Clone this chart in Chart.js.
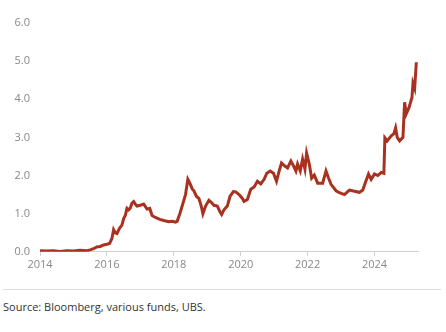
<!DOCTYPE html>
<html>
<head>
<meta charset="utf-8">
<script src="https://cdn.jsdelivr.net/npm/chart.js@4"></script>
<style>
  html, body { margin: 0; padding: 0; background: #fff; }
  #wrap { position: relative; width: 446px; height: 332px; }
  #chartBox { position: absolute; left: 0; top: 0; width: 446px; height: 273px; }
  #rule { position: absolute; left: 3px; right: 5px; top: 289px; border-top: 1px solid #dcdcdc; }
  #source { position: absolute; left: 3px; top: 299px; font: 11px 'Open Sans', sans-serif; color: #333; }
</style>
</head>
<body>
<div id="wrap">
  <div id="chartBox"><canvas id="chart"></canvas></div>
  <div id="rule"></div>
  <div id="source">Source: Bloomberg, various funds, UBS.</div>
</div>
<script>
// Series (decimal years)
const years = [
  2014.0, 2014.2, 2014.4, 2014.6, 2014.8, 2015.0, 2015.2, 2015.4, 2015.5, 2015.6,
  2015.7, 2015.8, 2015.9, 2016.0, 2016.08, 2016.15, 2016.2, 2016.25, 2016.3, 2016.38,
  2016.45, 2016.5, 2016.55, 2016.6, 2016.65, 2016.7, 2016.75, 2016.8, 2016.85, 2016.9,
  2017.0, 2017.1, 2017.2, 2017.28, 2017.35, 2017.45, 2017.58, 2017.7, 2017.85, 2017.95,
  2018.05, 2018.1, 2018.18, 2018.25, 2018.3, 2018.35, 2018.42, 2018.48, 2018.55, 2018.6,
  2018.68, 2018.75, 2018.82, 2018.87, 2018.95, 2019.05, 2019.12, 2019.2, 2019.3, 2019.38,
  2019.43, 2019.5, 2019.6, 2019.68, 2019.78, 2019.85, 2019.95, 2020.05, 2020.1, 2020.2,
  2020.3, 2020.4, 2020.5, 2020.6, 2020.7, 2020.78, 2020.88, 2020.98, 2021.07, 2021.15,
  2021.22, 2021.32, 2021.4, 2021.5, 2021.58, 2021.65, 2021.7, 2021.78, 2021.85, 2021.92,
  2021.97, 2022.05, 2022.12, 2022.2, 2022.3, 2022.45, 2022.55, 2022.62, 2022.7, 2022.85,
  2022.95, 2023.1, 2023.25, 2023.4, 2023.55, 2023.65, 2023.72, 2023.82, 2023.9, 2024.0,
  2024.1, 2024.2, 2024.28, 2024.31, 2024.38, 2024.5, 2024.58, 2024.63, 2024.68, 2024.75,
  2024.85, 2024.9, 2024.95, 2025.03, 2025.12, 2025.15, 2025.2, 2025.25
];
const values = [
  0.03, 0.02, 0.03, 0.01, 0.03, 0.02, 0.04, 0.03, 0.05, 0.08,
  0.13, 0.14, 0.18, 0.20, 0.22, 0.35, 0.58, 0.50, 0.48, 0.62,
  0.70, 0.87, 0.95, 1.14, 1.10, 1.15, 1.28, 1.32, 1.25, 1.20,
  1.22, 1.25, 1.12, 1.14, 0.95, 0.90, 0.85, 0.82, 0.79, 0.80,
  0.78, 0.80, 1.00, 1.20, 1.35, 1.50, 1.90, 1.80, 1.65, 1.60,
  1.45, 1.40, 1.20, 1.00, 1.20, 1.35, 1.30, 1.22, 1.20, 1.05,
  0.98, 1.10, 1.20, 1.45, 1.58, 1.57, 1.50, 1.40, 1.32, 1.37,
  1.64, 1.70, 1.85, 1.78, 1.90, 2.06, 2.12, 2.06, 1.85, 2.12,
  2.33, 2.25, 2.20, 2.38, 2.25, 2.12, 2.30, 2.12, 2.43, 2.17,
  2.59, 2.30, 1.93, 2.01, 1.80, 1.80, 2.12, 1.95, 1.77, 1.60,
  1.55, 1.50, 1.62, 1.59, 1.56, 1.62, 1.80, 2.04, 1.90, 2.04,
  2.00, 2.08, 2.06, 2.99, 2.91, 3.04, 3.10, 3.25, 3.00, 2.91,
  3.00, 3.92, 3.62, 3.78, 4.05, 4.42, 4.29, 4.97
];
const xTicks = [2014, 2016, 2018, 2020, 2022, 2024];
const yTicks = [0, 1, 2, 3, 4, 5, 6];

const tickFont = { family: "'Open Sans', sans-serif", size: 11 };

new Chart(document.getElementById('chart'), {
  type: 'line',
  data: {
    datasets: [{
      data: years.map((y, i) => ({ x: y, y: values[i] })),
      borderColor: '#a8321f',
      borderWidth: 3,
      pointRadius: 0,
      tension: 0,
    }],
  },
  options: {
    responsive: true,
    maintainAspectRatio: false,
    animation: false,
    layout: { padding: { left: 6, right: 28, top: 23, bottom: 0 } },
    plugins: { legend: { display: false }, tooltip: { enabled: false } },
    scales: {
      x: {
        type: 'linear',
        min: 2014,
        max: 2025.3,
        afterBuildTicks: axis => { axis.ticks = xTicks.map(v => ({ value: v })); },
        grid: { display: true, drawOnChartArea: false, drawTicks: true, tickLength: 4, color: '#d0d0d0' },
        border: { display: true, color: '#d0d0d0' },
        ticks: { color: '#888', font: tickFont, maxRotation: 0, padding: 2, callback: v => String(v) },
      },
      y: {
        min: 0,
        max: 6,
        afterBuildTicks: axis => { axis.ticks = yTicks.map(v => ({ value: v })); },
        afterFit: axis => { axis.width = 34; },
        grid: { display: false, drawTicks: false },
        border: { display: false },
        ticks: { color: '#888', font: tickFont, padding: 10, callback: v => v.toFixed(1) },
      },
    },
  },
});
</script>
</body>
</html>
